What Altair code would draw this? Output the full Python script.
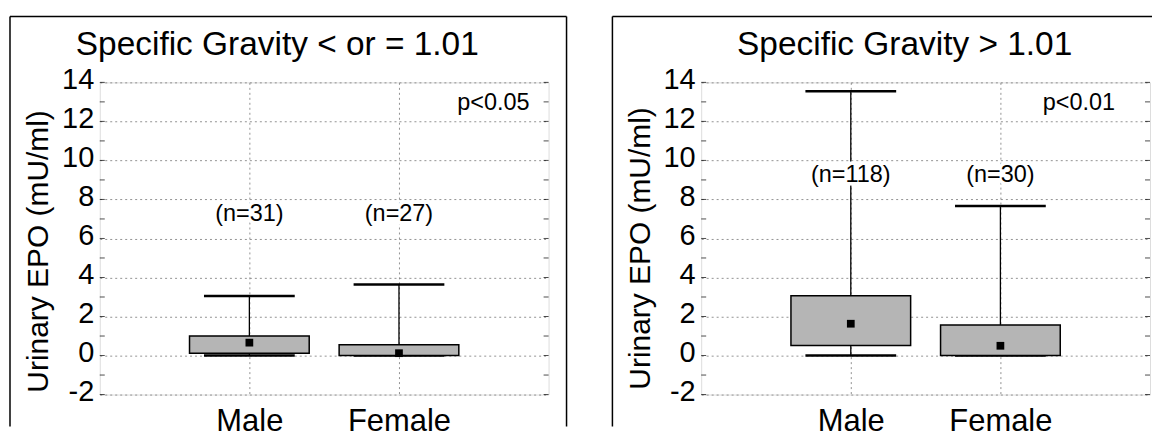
import altair as alt
import pandas as pd

FONT = "Liberation Sans"

groups = ["Male", "Female"]

# Panel 1: Specific Gravity < or = 1.01
p1_min = [0.0, 0.0]
p1_q1 = [0.12, 0.0]
p1_mid = [0.66, 0.12]
p1_q3 = [1.0, 0.55]
p1_max = [3.05, 3.64]
p1_n = ["(n=31)", "(n=27)"]

# Panel 2: Specific Gravity > 1.01
p2_min = [0.0, 0.0]
p2_q1 = [0.52, 0.0]
p2_mid = [1.63, 0.5]
p2_q3 = [3.06, 1.57]
p2_max = [13.54, 7.66]
p2_n = ["(n=118)", "(n=30)"]

titles = ["Specific Gravity < or = 1.01", "Specific Gravity > 1.01"]
p_labels = ["p<0.05", "p<0.01"]
y_ticks = [-2, 0, 2, 4, 6, 8, 10, 12, 14]
minor_ticks = list(range(-2, 15))
y_title = "Urinary EPO (mU/ml)"

W, H = 450, 313


def panel(mins, q1s, mids, q3s, maxs, ns, title, ptext, *, title_x, p_x, n_y,
          ytitle_y, frame_l, frame_r, has_right_side):
    df = pd.DataFrame({"group": groups, "min": mins, "q1": q1s, "mid": mids,
                       "q3": q3s, "max": maxs, "n": ns})
    ys = alt.Scale(domain=[-2, 14], nice=False, zero=False)
    yaxis = alt.Axis(values=y_ticks, ticks=False, domain=False, labelFontSize=29,
                     labelPadding=6, labelOffset=-3, labelColor="black", labelFont=FONT,
                     labelOverlap=False, labelSeparation=0, labelBound=False,
                     labelExpr="datum.value < 0 ? '-' + toString(-datum.value) : toString(datum.value)",
                     grid=True, gridColor="#777777", gridDash=[2, 3], gridWidth=0.8,
                     titleFontSize=30, titleFont=FONT, titleFontWeight="normal",
                     titleColor="black", titleAngle=270, titleX=-52, titleY=ytitle_y,
                     titleAlign="center", titleBaseline="alphabetic")
    xaxis = alt.Axis(ticks=False, domain=False, labelFontSize=31, labelFont=FONT,
                     labelColor="black", labelPadding=12, labelAngle=0, title=None,
                     labelOverlap=False,
                     grid=True, gridColor="#777777", gridDash=[2, 3], gridWidth=0.8)
    X = alt.X("group:N", sort=groups, scale=alt.Scale(type="point", padding=1), axis=xaxis)

    def Y(f):
        return alt.Y(f, type="quantitative", scale=ys, axis=yaxis, title=y_title)

    def YD(v):
        return alt.YDatum(v, type="quantitative", scale=ys, axis=yaxis, title=y_title)

    base = alt.Chart(df).encode(x=X)

    whisk_hi = base.mark_rule(color="black", strokeWidth=1.3).encode(y=Y("q3"), y2="max")
    whisk_lo = base.mark_rule(color="black", strokeWidth=1.3).encode(y=Y("min"), y2="q1")
    cap_hi = base.mark_tick(color="black", size=91, thickness=2.5, opacity=1).encode(y=Y("max"))
    cap_lo = base.mark_tick(color="black", size=91, thickness=2.5, opacity=1).encode(y=Y("min"))
    box = base.mark_bar(size=120, fill="#b5b5b5", stroke="black", strokeWidth=1.5).encode(
        y=Y("q1"), y2="q3")
    pt = base.mark_square(size=60, color="black", opacity=1).encode(y=Y("mid"))
    halo = base.mark_text(fontSize=23.5, font=FONT, color="white", stroke="white",
                          strokeWidth=7, baseline="alphabetic").encode(
        y=YD(n_y), text="n:N")
    ntext = base.mark_text(fontSize=23.5, font=FONT, color="black",
                           baseline="alphabetic").encode(
        y=YD(n_y), text="n:N")

    one = alt.Chart(pd.DataFrame({"t": [title], "p": [ptext]}))
    ttl = one.mark_text(fontSize=33.5, font=FONT, color="black", align="center",
                        baseline="alphabetic").encode(
        x=alt.value(title_x), y=alt.value(-27), text="t:N")
    ptx = one.mark_text(fontSize=23.5, font=FONT, color="black", align="right",
                        baseline="alphabetic").encode(
        x=alt.value(p_x), y=alt.value(28), text="p:N")

    fl = one.mark_rule(color="black", strokeWidth=1.5).encode(
        x=alt.value(frame_l), y=alt.value(-66), y2=alt.value(H + 32))
    ft = one.mark_rule(color="black", strokeWidth=1.5).encode(
        x=alt.value(frame_l), x2=alt.value(frame_r), y=alt.value(-66))
    layers = [whisk_hi, whisk_lo, halo, ntext, cap_hi, cap_lo, box, pt, ttl, ptx, fl, ft]
    if has_right_side:
        fr = one.mark_rule(color="black", strokeWidth=1.5).encode(
            x=alt.value(frame_r), y=alt.value(-66), y2=alt.value(H + 32))
        layers.append(fr)

    mt = pd.DataFrame({"v": minor_ticks})
    tl = alt.Chart(mt).mark_tick(color="black", size=5, thickness=1).encode(
        x=alt.value(2.5), y=Y("v"))
    tr = alt.Chart(mt).mark_tick(color="black", size=5, thickness=1).encode(
        x=alt.value(W - 2.5), y=Y("v"))
    layers += [tl, tr]
    return alt.layer(*layers).properties(width=W, height=H)


left = panel(p1_min, p1_q1, p1_mid, p1_q3, p1_max, p1_n, titles[0], p_labels[0],
             title_x=178, p_x=431, n_y=6.9, ytitle_y=169, frame_l=-90, frame_r=468,
             has_right_side=True)
right = panel(p2_min, p2_q1, p2_mid, p2_q3, p2_max, p2_n, titles[1], p_labels[1],
              title_x=204, p_x=415, n_y=8.9, ytitle_y=166, frame_l=-89, frame_r=W + 2,
              has_right_side=False)

chart = alt.hconcat(left, right, spacing=153, bounds="flush").properties(
    padding={"left": 0, "top": 6, "right": 0, "bottom": 0}
).configure_view(stroke="black", strokeWidth=1.5).configure_axis(
    labelOverlap=False
).configure(font=FONT, background="white")

chart.save("out.html", embed_options={"renderer": "svg", "actions": False})
